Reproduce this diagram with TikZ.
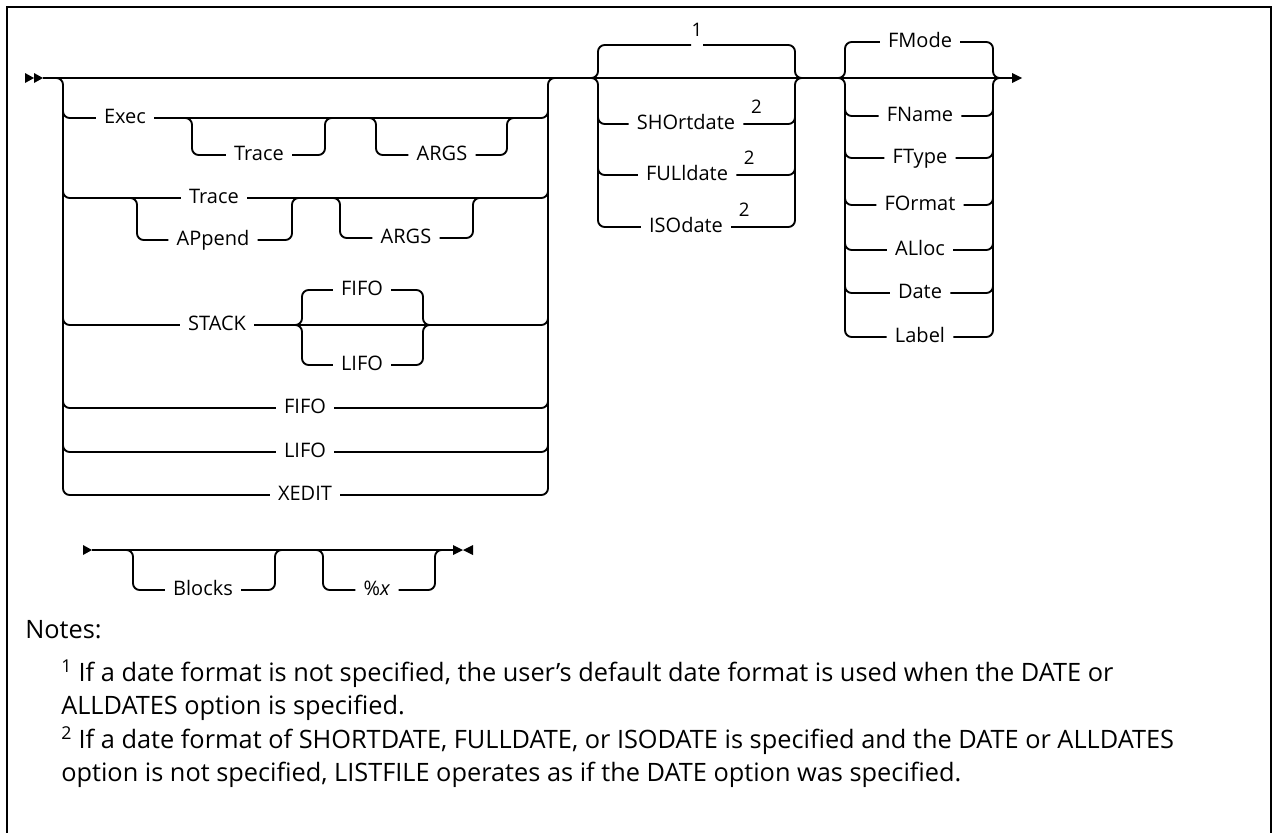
\documentclass[tikz,border=0pt]{standalone}
\usepackage{fontspec}
\setmainfont{Open Sans}
\usetikzlibrary{calc}
\begin{document}
\begin{tikzpicture}[x=0.75pt,y=-0.75pt,
  rr/.style={line width=1.4pt, rounded corners=5pt},
  kw/.style={font=\fontsize{15}{18}\selectfont, inner xsep=6pt, inner ysep=0pt, text height=10.5pt, text depth=3pt},
  sup/.style={font=\fontsize{14}{16}\selectfont, inner sep=0pt},
  note/.style={font=\fontsize{19}{23}\selectfont, anchor=base west, inner sep=0pt}]
\useasboundingbox (0,0) rectangle (1273,832);
% frame
\draw[line width=1.5pt] (7,840) -- (7,7) -- (1271,7) -- (1271,840);

% main line
\fill (25,73) -- (34,78) -- (25,83) -- cycle;
\fill (34,73) -- (43,78) -- (34,83) -- cycle;
\coordinate (start) at (43,78);
\coordinate (endarrow) at (1012,78);
\draw[rr] (start) -- (endarrow);
\fill (1012,73) -- (1022,78) -- (1012,83) -- cycle;

% group 1
\node[kw] (exec) at (125,118) {Exec};
\node[kw] (traceA) at (259,155) {Trace};
\node[kw] (argsA) at (442,155) {ARGS};
\node[kw] (traceB) at (214,198) {Trace};
\node[kw] (append) at (213,240) {APpend};
\node[kw] (argsB) at (406,238) {ARGS};
\node[kw] (stack) at (217,325) {STACK};
\node[kw] (fifoA) at (362,290) {FIFO};
\node[kw] (lifoA) at (362,365) {LIFO};
\node[kw] (fifoB) at (305,408) {FIFO};
\node[kw] (lifoB) at (305,452) {LIFO};
\node[kw] (xedit) at (305,495) {XEDIT};

\draw[rr] (50,78) -| (63,495) -- (xedit.west);
\draw[rr] (xedit.east) -| (548,78) -- (560,78);

\draw[rr] (63,105) |- (exec.west);
\draw[rr] (exec.east) -| (548,105);
\draw[rr] (175,118) -| (192,155) -- (traceA.west);
\draw[rr] (traceA.east) -| (325,118) -- (340,118);
\draw[rr] (360,118) -| (376,155) -- (argsA.west);
\draw[rr] (argsA.east) -| (507,118) -- (520,118);

\draw[rr] (63,185) |- (traceB.west);
\draw[rr] (traceB.east) -| (548,185);
\draw[rr] (120,198) -| (137,240) -- (append.west);
\draw[rr] (append.east) -| (292,198) -- (305,198);
\draw[rr] (325,198) -| (340,238) -- (argsB.west);
\draw[rr] (argsB.east) -| (473,198) -- (486,198);

\draw[rr] (63,312) |- (stack.west);
\draw[rr] (stack.east) -| (548,312);
\draw[rr] (288,325) -| (302,290) -- (fifoA.west);
\draw[rr] (288,325) -| (302,365) -- (lifoA.west);
\draw[rr] (fifoA.east) -| (423,325) -- (436,325);
\draw[rr] (lifoA.east) -| (423,325) -- (436,325);

\draw[rr] (63,395) |- (fifoB.west);
\draw[rr] (fifoB.east) -| (548,395);
\draw[rr] (63,440) |- (lifoB.west);
\draw[rr] (lifoB.east) -| (548,440);

% group 2 (dates)
\coordinate (g1a) at (691,45);
\coordinate (g1b) at (703,45);
\node[sup] (one) at (697,30) {1};
\draw[rr] (585,78) -| (598,45) -- (g1a);
\draw[rr] (g1b) -| (795,78) -- (808,78);
\node[kw] (short) at (686,124) {SHOrtdate};
\node[kw] (full) at (687,175) {FULldate};
\node[kw] (iso) at (686,227) {ISOdate};
\draw[rr] (585,78) -| (598,227) -- (iso.west);
\draw[rr] (iso.east) -| (795,78) -- (808,78);
\draw[rr] (598,110) |- (short.west);
\draw[rr] (short.east) -| (795,110);
\draw[rr] (598,160) |- (full.west);
\draw[rr] (full.east) -| (795,160);
\node[sup] (s2a) at ($(short.east)+(13,-17)$) {2};
\node[sup] (s2b) at ($(full.east)+(13,-17)$) {2};
\node[sup] (s2c) at ($(iso.east)+(13,-17)$) {2};

% group 3 (F options)
\node[kw] (fmode) at (920,42) {FMode};
\node[kw] (fname) at (920,116) {FName};
\node[kw] (ftype) at (920,158) {FType};
\node[kw] (format) at (920,205) {FOrmat};
\node[kw] (alloc) at (920,250) {ALloc};
\node[kw] (date) at (920,293) {Date};
\node[kw] (label) at (920,337) {Label};
\draw[rr] (830,78) -| (845,42) -- (fmode.west);
\draw[rr] (fmode.east) -| (993,78) -- (1006,78);
\draw[rr] (830,78) -| (845,337) -- (label.west);
\draw[rr] (label.east) -| (993,78) -- (1006,78);
\foreach \n in {fname,ftype,format,alloc,date}{
  \draw[rr] (845,100) |- (\n.west);
  \draw[rr] (\n.east) -| (993,100);
}

% bottom line
\fill (83,545) -- (92,550) -- (83,555) -- cycle;
\coordinate (bstart) at (92,550);
\coordinate (bend) at (453,550);
\draw[rr] (bstart) -- (bend);
\fill (453,545) -- (463,550) -- (453,555) -- cycle;
\fill (473,545) -- (463,550) -- (473,555) -- cycle;
\node[kw] (blocks) at (203,590) {Blocks};
\node[kw] (pctx) at (377,590) {\%\textit{x}};
\draw[rr] (118,550) -| (133,590) -- (blocks.west);
\draw[rr] (blocks.east) -| (275,550) -- (290,550);
\draw[rr] (308,550) -| (323,590) -- (pctx.west);
\draw[rr] (pctx.east) -| (435,550) -- (448,550);

% notes
\node[note] (notes) at (25,638) {Notes:};
\node[note] (n1a) at (61,681) {\textsuperscript{1} If a date format is not specified, the user's default date format is used when the DATE or};
\node[note] (n1b) at (61,714) {ALLDATES option is specified.};
\node[note] (n2a) at (61,748) {\textsuperscript{2} If a date format of SHORTDATE, FULLDATE, or ISODATE is specified and the DATE or ALLDATES};
\node[note] (n2b) at (61,781) {option is not specified, LISTFILE operates as if the DATE option was specified.};
\end{tikzpicture}
\end{document}
